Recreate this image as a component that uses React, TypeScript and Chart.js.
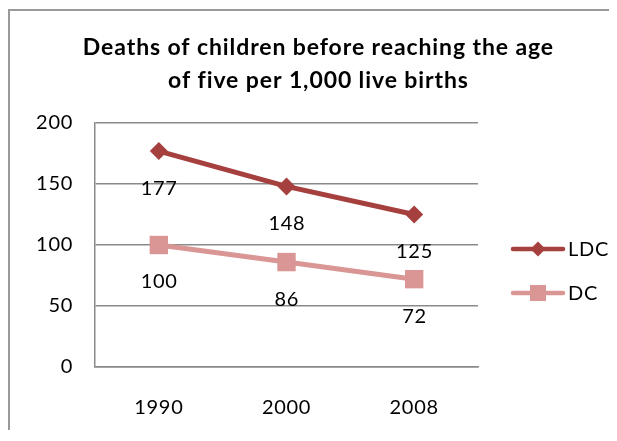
import React, { useEffect, useRef } from 'react';
import { Chart, registerables } from 'chart.js';

Chart.register(...registerables);

const categories = ['1990', '2000', '2008'];
const ldcValues = [177, 148, 125];
const dcValues = [100, 86, 72];
const yTicks = [0, 50, 100, 150, 200];
const seriesNames = ['LDC', 'DC'];
const titleLines = ['Deaths of children before reaching the age', 'of five per 1,000 live births'];

const LDC_COLOR = '#A5403E';
const DC_COLOR = '#D99694';
const GRID_COLOR = '#8a8a8a';
const FONT = 'Lato, "Open Sans", sans-serif';
const TEXT_SIZE = 20;
const TEXT_SPACING = 0.7;
const TITLE_SIZE = 23;
const TITLE_SPACING = 0.9;

const spacingPlugin = {
  id: 'spacing',
  beforeDraw(chart: any) {
    chart.ctx.letterSpacing = `${TEXT_SPACING}px`;
  },
  afterDraw(chart: any) {
    chart.ctx.letterSpacing = '0px';
  },
};

const titlePlugin = {
  id: 'customTitle',
  afterDraw(chart: any) {
    const ctx = chart.ctx;
    ctx.save();
    ctx.letterSpacing = `${TITLE_SPACING}px`;
    ctx.font = `bold ${TITLE_SIZE}px ${FONT}`;
    ctx.fillStyle = '#000';
    ctx.textAlign = 'center';
    ctx.textBaseline = 'middle';
    const cx = 308 + TITLE_SPACING / 2;
    titleLines.forEach((line, i) => {
      ctx.fillText(line, cx, 37 + i * 33);
    });
    ctx.restore();
  },
};

const dataLabelPlugin = {
  id: 'dataLabels',
  afterDatasetsDraw(chart: any) {
    const ctx = chart.ctx;
    ctx.save();
    ctx.letterSpacing = `${TEXT_SPACING}px`;
    ctx.font = `${TEXT_SIZE}px ${FONT}`;
    ctx.fillStyle = '#000';
    ctx.textAlign = 'center';
    ctx.textBaseline = 'middle';
    chart.data.datasets.forEach((ds: any, i: number) => {
      const meta = chart.getDatasetMeta(i);
      meta.data.forEach((el: any, j: number) => {
        ctx.fillText(String(ds.data[j]), el.x + TEXT_SPACING / 2, el.y + 37);
      });
    });
    ctx.restore();
  },
};

const legendPlugin = {
  id: 'customLegend',
  afterDraw(chart: any) {
    const ctx = chart.ctx;
    const area = chart.chartArea;
    const x0 = area.right + 35;
    const items = [
      { name: seriesNames[0], color: LDC_COLOR, shape: 'diamond', y: area.top + 126 },
      { name: seriesNames[1], color: DC_COLOR, shape: 'square', y: area.top + 170 },
    ];
    ctx.save();
    items.forEach((it) => {
      ctx.strokeStyle = it.color;
      ctx.fillStyle = it.color;
      ctx.lineWidth = 4.5;
      ctx.lineCap = 'round';
      ctx.beginPath();
      ctx.moveTo(x0, it.y);
      ctx.lineTo(x0 + 50, it.y);
      ctx.stroke();
      const cx = x0 + 25;
      ctx.beginPath();
      if (it.shape === 'diamond') {
        const r = 7.5;
        ctx.moveTo(cx, it.y - r);
        ctx.lineTo(cx + r, it.y);
        ctx.lineTo(cx, it.y + r);
        ctx.lineTo(cx - r, it.y);
        ctx.closePath();
      } else {
        const h = 8;
        ctx.rect(cx - h, it.y - h, 2 * h, 2 * h);
      }
      ctx.fill();
      ctx.letterSpacing = `${TEXT_SPACING}px`;
      ctx.font = `${TEXT_SIZE}px ${FONT}`;
      ctx.fillStyle = '#000';
      ctx.textAlign = 'left';
      ctx.textBaseline = 'middle';
      ctx.fillText(it.name, x0 + 55, it.y + 1);
    });
    ctx.restore();
  },
};

export default function App() {
  const canvasRef = useRef<HTMLCanvasElement | null>(null);

  useEffect(() => {
    if (!canvasRef.current) return;
    Chart.defaults.color = '#000';
    const chart = new Chart(canvasRef.current, {
      type: 'line',
      data: {
        labels: categories,
        datasets: [
          {
            label: seriesNames[0],
            data: ldcValues,
            borderColor: LDC_COLOR,
            backgroundColor: LDC_COLOR,
            borderWidth: 5,
            pointStyle: 'rectRot',
            pointRadius: 9,
            pointBorderWidth: 0,
            pointBackgroundColor: LDC_COLOR,
            tension: 0,
          },
          {
            label: seriesNames[1],
            data: dcValues,
            borderColor: DC_COLOR,
            backgroundColor: DC_COLOR,
            borderWidth: 5,
            pointStyle: 'rect',
            pointRadius: 13,
            pointBorderWidth: 0,
            pointBackgroundColor: DC_COLOR,
            tension: 0,
          },
        ],
      },
      options: {
        responsive: false,
        animation: false,
        layout: { padding: { left: 0, right: 139, top: 112, bottom: 0 } },
        plugins: {
          legend: { display: false },
          tooltip: { enabled: false },
          title: { display: false },
        },
        scales: {
          x: {
            offset: true,
            grid: { display: false, drawTicks: false },
            border: { display: true, color: GRID_COLOR, width: 1.5 },
            ticks: { font: { family: FONT, size: TEXT_SIZE }, color: '#000', padding: 29 },
            afterFit: (s: any) => {
              s.height = 64;
            },
          },
          y: {
            min: 0,
            max: 200,
            grid: { color: GRID_COLOR, lineWidth: 1.5, drawTicks: false },
            border: { display: true, color: GRID_COLOR, width: 1.5 },
            ticks: { font: { family: FONT, size: TEXT_SIZE }, color: '#000', padding: 22, stepSize: 50 },
            afterBuildTicks: (s: any) => {
              s.ticks = yTicks.map((v) => ({ value: v }));
            },
            afterFit: (s: any) => {
              s.width = 85;
            },
          },
        },
      },
      plugins: [spacingPlugin, dataLabelPlugin, legendPlugin, titlePlugin],
    });
    return () => chart.destroy();
  }, []);

  return (
    <div
      style={{
        position: 'relative',
        top: 1,
        width: 607,
        height: 420,
        borderTop: '2px solid #999',
        borderLeft: '2px solid #999',
      }}
    >
      <canvas ref={canvasRef} width={607} height={420} style={{ display: 'block' }} />
    </div>
  );
}
